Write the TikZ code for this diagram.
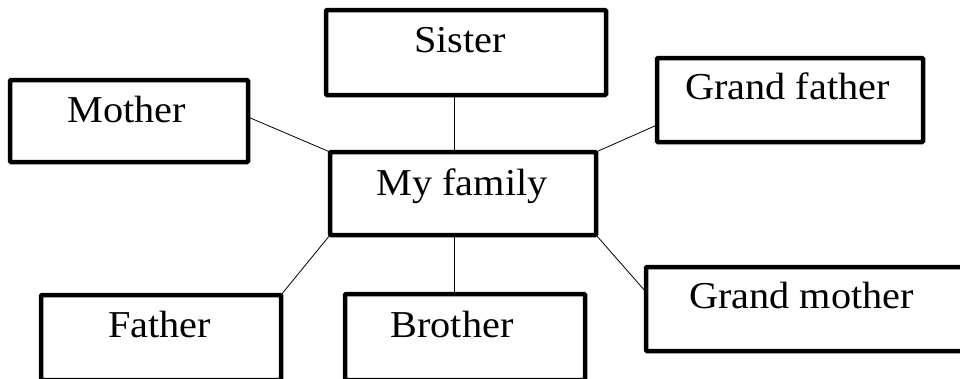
\documentclass[tikz,border=0pt]{standalone}
\usepackage{fontspec}
\setmainfont[FakeStretch=1.06]{Liberation Serif}
\begin{document}
\begin{tikzpicture}[x=1pt,y=-1pt,
  box/.style={draw=black,line width=4.5pt,rounded corners=1pt,inner sep=0pt,outer sep=0pt,minimum width=#1},
  lbl/.style={anchor=base,inner sep=0pt,font=\fontsize{38}{44}\selectfont},
  conn/.style={draw=black,line width=0.8pt}]
\useasboundingbox (0,0) rectangle (960,378);
\clip (0,0) rectangle (960,378);
\node[box=238pt,minimum height=82pt] (mother) at (129,121) {};
\node[box=280pt,minimum height=85pt] (sister) at (466,52.5) {};
\node[box=266pt,minimum height=84pt] (gfather) at (790,100) {};
\node[box=266pt,minimum height=83pt] (fam) at (463,193.5) {};
\node[box=240pt,minimum height=85pt] (father) at (161,337.5) {};
\node[box=240pt,minimum height=86pt] (brother) at (465,337) {};
\node[box=324pt,minimum height=84pt] (gmother) at (808,309) {};
\node[lbl] (tmother) at (127,122) {Mother};
\node[lbl] (tsister) at (460,52) {Sister};
\node[lbl] (tgfather) at (787.5,99) {Grand father};
\node[lbl] (tfam) at (462,195) {My family};
\node[lbl] (tfather) at (159.5,337) {Father};
\node[lbl] (tbrother) at (452,337) {Brother};
\node[lbl] (tgmother) at (801.5,308) {Grand mother};
\draw[conn] ([yshift=4pt]mother.east) -- (fam.north west);
\draw[conn] ([xshift=-9pt]fam.north) -- ([xshift=-9pt]fam.north |- sister.south);
\draw[conn] (fam.north east) -- ([yshift=-25pt]gfather.west);
\draw[conn] (fam.south west) -- (father.north east);
\draw[conn] ([xshift=-9pt]fam.south) -- ([xshift=-9pt]fam.south |- brother.north);
\draw[conn] (fam.south east) -- ([yshift=17pt]gmother.west);
\end{tikzpicture}
\end{document}
